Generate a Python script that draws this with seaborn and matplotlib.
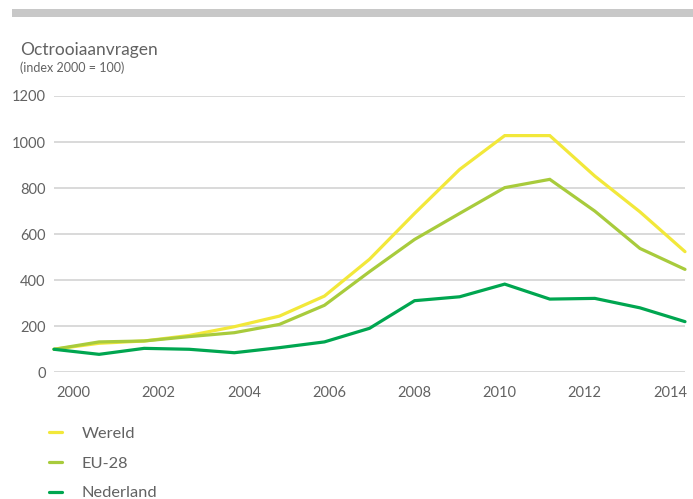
import matplotlib
matplotlib.use("Agg")
import matplotlib.pyplot as plt
import seaborn as sns
import pandas as pd
from matplotlib.patches import Rectangle

years = list(range(2000, 2015))
wereld = [100, 126, 136, 160, 198, 244, 331, 491, 690, 881, 1028, 1028, 852, 697, 524]
eu28 = [100, 132, 136, 155, 172, 208, 291, 437, 577, 690, 802, 838, 700, 538, 447]
nederland = [100, 78, 104, 100, 85, 107, 132, 191, 311, 328, 383, 318, 321, 280, 220]

series_names = ["Wereld", "EU-28", "Nederland"]
colors = ["#f2e83a", "#a8cb3c", "#00a650"]
y_ticks = [0, 200, 400, 600, 800, 1000, 1200]
x_labels = ["2000", "2002", "2004", "2006", "2008", "2010", "2012", "2014"]

df = pd.DataFrame({
    "jaar": years * 3,
    "index": wereld + eu28 + nederland,
    "reeks": ["Wereld"] * 15 + ["EU-28"] * 15 + ["Nederland"] * 15,
})

sns.set_theme(style="white")
plt.rcParams["font.family"] = ["Lato", "DejaVu Sans"]
text_color = "#626262"

W, H = 693, 499
fig = plt.figure(figsize=(W / 100, H / 100), dpi=100)
ax = fig.add_axes([54 / W, (H - 372.3) / H, (685 - 54) / W, (372.3 - 96) / H])

# grey band along the top
fig.add_artist(Rectangle((12 / W, (H - 17) / H), (W - 12) / W, 8 / H,
                         transform=fig.transFigure, color="#c8c8c8", lw=0))

sns.lineplot(data=df, x="jaar", y="index", hue="reeks", hue_order=series_names,
             palette=colors, linewidth=2.3, ax=ax, legend=False)
for ln in ax.lines:
    ln.set_clip_on(False)
    ln.set_solid_joinstyle("miter")

ax.set_xlim(2000, 2014)
ax.set_ylim(0, 1200)
ax.set_yticks(y_ticks)
ax.set_yticklabels([str(v) for v in y_ticks])
ax.yaxis.grid(True, color="#cfcfcf", linewidth=1.1)
ax.set_axisbelow(True)
for s in ax.spines.values():
    s.set_visible(False)

# year labels spread evenly beneath the plot area
first = 2000 + (73.5 - 54) / (631 / 14)
last = 2000 + (670 - 54) / (631 / 14)
step = (last - first) / (len(x_labels) - 1)
ax.set_xticks([first + i * step for i in range(len(x_labels))])
ax.set_xticklabels(x_labels)
ax.tick_params(axis="both", length=0, labelsize=10.5, labelcolor=text_color)
ax.tick_params(axis="y", pad=6)
ax.tick_params(axis="x", pad=10)
ax.set_xlabel("")
ax.set_ylabel("")

fig.text(20 / W, 1 - 50 / H, "Octrooiaanvragen", fontsize=12.5, color=text_color,
         va="center", ha="left")
fig.text(20 / W, 1 - 68 / H, "(index 2000 = 100)", fontsize=9, color=text_color,
         va="center", ha="left")

handles = [plt.Line2D([0], [0], color=c, lw=2.3) for c in colors]
fig.legend(handles, series_names, loc="upper left", bbox_to_anchor=(42 / W, 1 - 420 / H),
           frameon=False, fontsize=11.8, handlelength=0.8, handletextpad=1.2,
           labelspacing=0.93, labelcolor=text_color, borderaxespad=0)

fig.savefig("out.png", dpi=100)
